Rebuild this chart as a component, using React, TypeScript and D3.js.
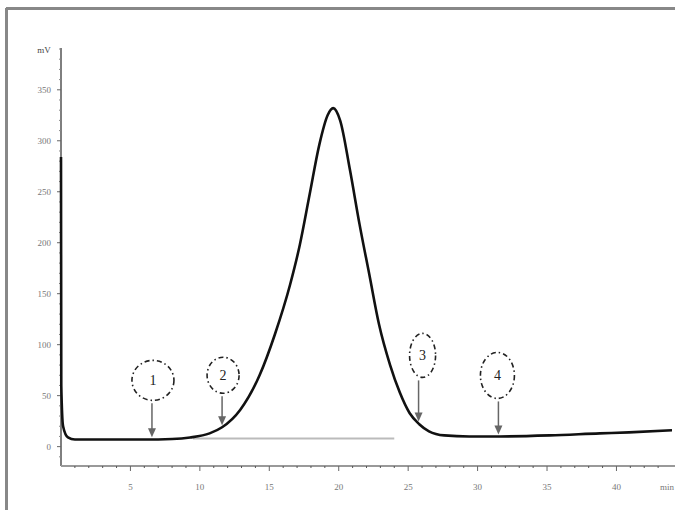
import React from "react";
import * as d3 from "d3";

const times = [0, 0.02, 0.15, 0.5, 1, 2, 4, 6, 8, 9.3, 10.7, 11.6, 12.9, 14.3, 15.4, 16.5, 17.2, 17.9, 18.6, 19.2, 19.6, 20.1, 20.8, 21.5, 22.2, 22.9, 23.7, 24.4, 25.1, 25.8, 26.5, 27.6, 29.4, 31.6, 35.2, 38.8, 40.9, 44];
const signal = [284, 60, 20, 9, 7, 7, 7, 7, 7.5, 9, 13, 19, 36, 70, 110, 159, 198, 247, 296, 325, 332, 320, 272, 218, 169, 120, 80, 53, 33, 22, 15, 11, 10, 10, 11, 13, 14, 16];
const baselineTimes = [9.5, 24];
const baselineValues = [8, 8];
const yTicks = [0, 50, 100, 150, 200, 250, 300, 350];
const xTicks = [5, 10, 15, 20, 25, 30, 35, 40];
const markerLabels = ["1", "2", "3", "4"];
const markerTimes = [6.55, 11.6, 25.75, 31.5];

const W = 675, H = 510;
const x = d3.scaleLinear().domain([0, 44]).range([61, 672]);
const y = d3.scaleLinear().domain([-19, 391]).range([466, 48]);

const ellipseOffsets = [
  { dx: 1, dy: -57, rx: 21, ry: 20 },
  { dx: 1, dy: -50, rx: 16, ry: 18 },
  { dx: 4, dy: -66, rx: 13, ry: 22 },
  { dx: -1, dy: -59, rx: 17, ry: 23 },
];

export default function App() {
  const pts: [number, number][] = times.map((t, i) => [t, signal[i]]);
  const line = d3.line<[number, number]>().x(d => x(d[0])).y(d => y(d[1])).curve(d3.curveMonotoneX);
  const interp = (t: number) => {
    const i = d3.bisector((d: number) => d).left(times, t);
    const i0 = Math.max(1, i);
    const t0 = times[i0 - 1], t1 = times[i0];
    return signal[i0 - 1] + (signal[i0] - signal[i0 - 1]) * (t - t0) / (t1 - t0);
  };
  const minorX = d3.range(1, 44, 1).filter(v => v % 5 !== 0);
  const minorY = d3.range(-10, 391, 10).filter(v => v % 50 !== 0);
  const textColor = "#777";
  return (
    <svg width={W} height={H} style={{ position: "absolute", left: 0, top: 0, background: "#fff" }} fontFamily="Liberation Serif, serif">
      <line x1={6} y1={8.5} x2={675} y2={8.5} stroke="#888" strokeWidth={3} />
      <line x1={6.5} y1={8} x2={6.5} y2={510} stroke="#888" strokeWidth={3} />
      {/* y axis */}
      <line x1={61} y1={48} x2={61} y2={466} stroke="#555" strokeWidth={1.5} />
      {yTicks.map(v => (
        <g key={v}>
          <line x1={57} x2={61} y1={y(v)} y2={y(v)} stroke="#666" />
          <text x={51} y={y(v) + 3} fontSize={9} fill={textColor} textAnchor="end">{v}</text>
        </g>
      ))}
      {minorY.map(v => <line key={v} x1={59} x2={61} y1={y(v)} y2={y(v)} stroke="#888" />)}
      <text x={44} y={53} fontSize={9} fill="#444" textAnchor="middle">mV</text>
      {/* x axis */}
      <line x1={61} y1={466} x2={675} y2={466} stroke="#999" strokeWidth={2} />
      {xTicks.map(v => (
        <g key={v}>
          <line x1={x(v)} x2={x(v)} y1={466} y2={471} stroke="#666" />
          <text x={x(v)} y={490} fontSize={9} fill={textColor} textAnchor="middle">{v}</text>
        </g>
      ))}
      {minorX.map(v => <line key={v} x1={x(v)} x2={x(v)} y1={466} y2={468} stroke="#555" />)}
      <text x={674} y={490} fontSize={9} fill={textColor} textAnchor="end">min</text>
      {/* baseline */}
      <line x1={x(baselineTimes[0])} x2={x(baselineTimes[1])} y1={y(baselineValues[0])} y2={y(baselineValues[1])} stroke="#bbb" strokeWidth={2} />
      {/* signal */}
      <path d={line(pts) || ""} fill="none" stroke="#111" strokeWidth={2.6} strokeLinejoin="round" />
      {/* markers */}
      {markerTimes.map((t, i) => {
        const o = ellipseOffsets[i];
        const tipX = x(t), tipY = y(interp(t)) - 2;
        const cx = tipX + o.dx, cy = tipY + o.dy;
        const startY = cy + o.ry + 3;
        return (
          <g key={i}>
            <ellipse cx={cx} cy={cy} rx={o.rx} ry={o.ry} fill="none" stroke="#222" strokeWidth={1.6} strokeDasharray="5 3 1.5 3" />
            <text x={cx} y={cy + 5} fontSize={14} textAnchor="middle" fill="#222">{markerLabels[i]}</text>
            <line x1={tipX} x2={tipX} y1={startY} y2={tipY - 6} stroke="#666" strokeWidth={1.5} />
            <path d={`M${tipX - 4},${tipY - 9} L${tipX + 4},${tipY - 9} L${tipX},${tipY} Z`} fill="#666" />
          </g>
        );
      })}
    </svg>
  );
}
